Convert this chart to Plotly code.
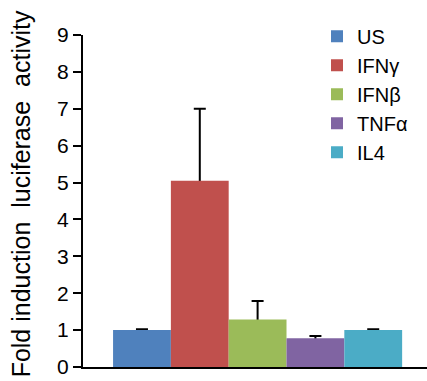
import plotly.graph_objects as go

categories = ["US", "IFNγ", "IFNβ", "TNFα", "IL4"]
values = [1.0, 5.05, 1.29, 0.78, 1.0]
errors = [0.02, 1.95, 0.5, 0.06, 0.02]
colors = ["#4F81BD", "#C0504D", "#9BBB59", "#8064A2", "#4BACC6"]
y_ticks = [0, 1, 2, 3, 4, 5, 6, 7, 8, 9]

FONT = "Liberation Sans, Arial, sans-serif"

fig = go.Figure()
# error bars carried by invisible bars drawn first (lower half hidden by coloured bars)
for i, (cat, v, e) in enumerate(zip(categories, values, errors)):
    fig.add_trace(go.Bar(
        x=[i], y=[v], width=1, showlegend=False, hoverinfo="skip",
        marker=dict(color="rgba(0,0,0,0)", line=dict(width=0)),
        error_y=dict(type="data", array=[e], symmetric=True,
                     color="black", thickness=2, width=6),
    ))
for i, (cat, v, c) in enumerate(zip(categories, values, colors)):
    fig.add_trace(go.Bar(
        x=[i], y=[v], name=cat, width=1,
        marker=dict(color=c, line=dict(width=0)),
    ))

fig.update_layout(
    width=427, height=381,
    margin=dict(l=83, r=0, t=35, b=14),
    paper_bgcolor="white", plot_bgcolor="white",
    barmode="overlay",
    font=dict(family=FONT, color="black", size=20),
    showlegend=True,
    legend=dict(x=(317 - 83) / 344, y=1.055, xanchor="left", yanchor="top",
                font=dict(size=20, family=FONT), bgcolor="rgba(0,0,0,0)",
                tracegroupgap=0),
    xaxis=dict(range=[-1.02, 4.93], showticklabels=False, ticks="",
               showgrid=False, zeroline=False, showline=True,
               linecolor="black", linewidth=2),
    yaxis=dict(range=[0, 9], tickvals=y_ticks, ticks="outside", ticklen=8,
               tickwidth=1.5, tickcolor="black", showgrid=False, zeroline=False,
               showline=True, linecolor="black", linewidth=2,
               tickfont=dict(size=21, family=FONT)),
    annotations=[dict(text="Fold induction  luciferase  activity", textangle=-90,
                      xref="paper", yref="paper", x=-78 / 344, y=0.52,
                      xanchor="left", yanchor="middle", showarrow=False,
                      font=dict(size=25, family=FONT))],
)

fig.write_html("out.html", config={"displayModeBar": False},
               post_script="document.body.style.margin='0';")
